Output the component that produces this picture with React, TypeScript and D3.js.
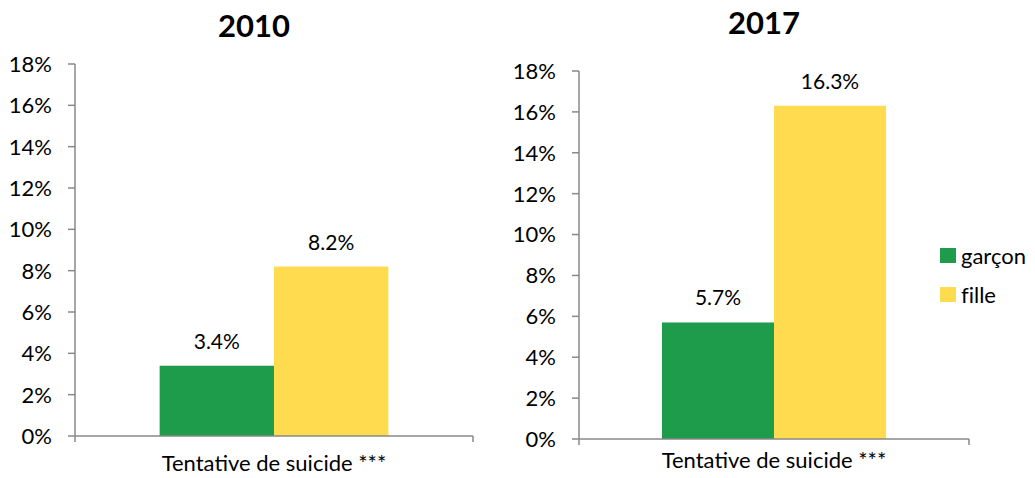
import React from "react";
import * as d3 from "d3";

const categories = ["Tentative de suicide ***"];
const seriesNames = ["garçon", "fille"];
const years = ["2010", "2017"];
const values2010 = [3.4, 8.2];
const values2017 = [5.7, 16.3];
const yTicks = [0, 2, 4, 6, 8, 10, 12, 14, 16, 18];
const colors = ["#1F9C4B", "#FFDB50"];

const FONT = "Lato, 'Open Sans', sans-serif";
const AXIS = "#898989";

type Panel = {
  title: string;
  values: number[];
  x0: number;
  x1: number;
  yTop: number;
  yBase: number;
  titleX: number;
  titleY: number;
  catY: number;
};

const panels: Panel[] = [
  { title: years[0], values: values2010, x0: 75, x1: 473, yTop: 64, yBase: 436, titleX: 254, titleY: 37, catY: 471 },
  { title: years[1], values: values2017, x0: 579, x1: 969, yTop: 71, yBase: 439, titleX: 764, titleY: 34, catY: 468 },
];

const noLig = { fontVariantLigatures: "none" } as React.CSSProperties;

function ChartPanel({ p }: { p: Panel }) {
  const y = d3.scaleLinear().domain([0, 18]).range([p.yBase, p.yTop]);
  const xCat = d3.scaleBand<string>().domain(categories).range([p.x0, p.x1]).paddingInner(0).paddingOuter(0.37);
  const xSer = d3.scaleBand<string>().domain(seriesNames).range([0, xCat.bandwidth()]).padding(0);
  const cat = categories[0];
  const cx = (xCat(cat) as number) + xCat.bandwidth() / 2;
  return (
    <g>
      <text x={p.titleX} y={p.titleY} textAnchor="middle" fontFamily={FONT} fontWeight={700} fontSize={31} fill="#000">
        {p.title}
      </text>
      {p.values.map((v, i) => {
        const bx = (xCat(cat) as number) + (xSer(seriesNames[i]) as number);
        return (
          <g key={i}>
            <rect x={bx} y={y(v)} width={xSer.bandwidth()} height={y(0) - y(v)} fill={colors[i]} />
            <text x={bx + xSer.bandwidth() / 2} y={y(v) - 17} textAnchor="middle" fontFamily={FONT} fontSize={21} fill="#000">
              {v.toFixed(1) + "%"}
            </text>
          </g>
        );
      })}
      <line x1={p.x0} x2={p.x0} y1={y(18)} y2={y(0) + 6} stroke={AXIS} strokeWidth={1.5} />
      {yTicks.map((t) => (
        <g key={t}>
          <line x1={p.x0 - 7} x2={p.x0} y1={y(t)} y2={y(t)} stroke={AXIS} strokeWidth={1.5} />
          <text x={p.x0 - 23} y={y(t)} dy="0.36em" textAnchor="end" fontFamily={FONT} fontSize={22} fill="#000">
            {t + "%"}
          </text>
        </g>
      ))}
      <line x1={p.x0} x2={p.x1} y1={y(0)} y2={y(0)} stroke={AXIS} strokeWidth={1.5} />
      <line x1={p.x1} x2={p.x1} y1={y(0)} y2={y(0) + 6} stroke={AXIS} strokeWidth={1.5} />
      <text x={cx} y={p.catY} textAnchor="middle" fontFamily={FONT} fontSize={22} fill="#000">
        {cat}
      </text>
    </g>
  );
}

export default function App() {
  const legendY = [256, 295];
  return (
    <svg width={1035} height={478} style={{ position: "absolute", left: 0, top: 0, background: "#fff" }}>
      <rect width={1035} height={478} fill="#fff" />
      {panels.map((p, i) => (
        <ChartPanel key={i} p={p} />
      ))}
      {seriesNames.map((s, i) => (
        <g key={s}>
          <rect x={940} y={legendY[i] - 8} width={16} height={15} fill={colors[i]} />
          <text x={961} y={legendY[i]} dy="0.35em" fontFamily={FONT} fontSize={22} fill="#000" style={noLig}>
            {s}
          </text>
        </g>
      ))}
    </svg>
  );
}
